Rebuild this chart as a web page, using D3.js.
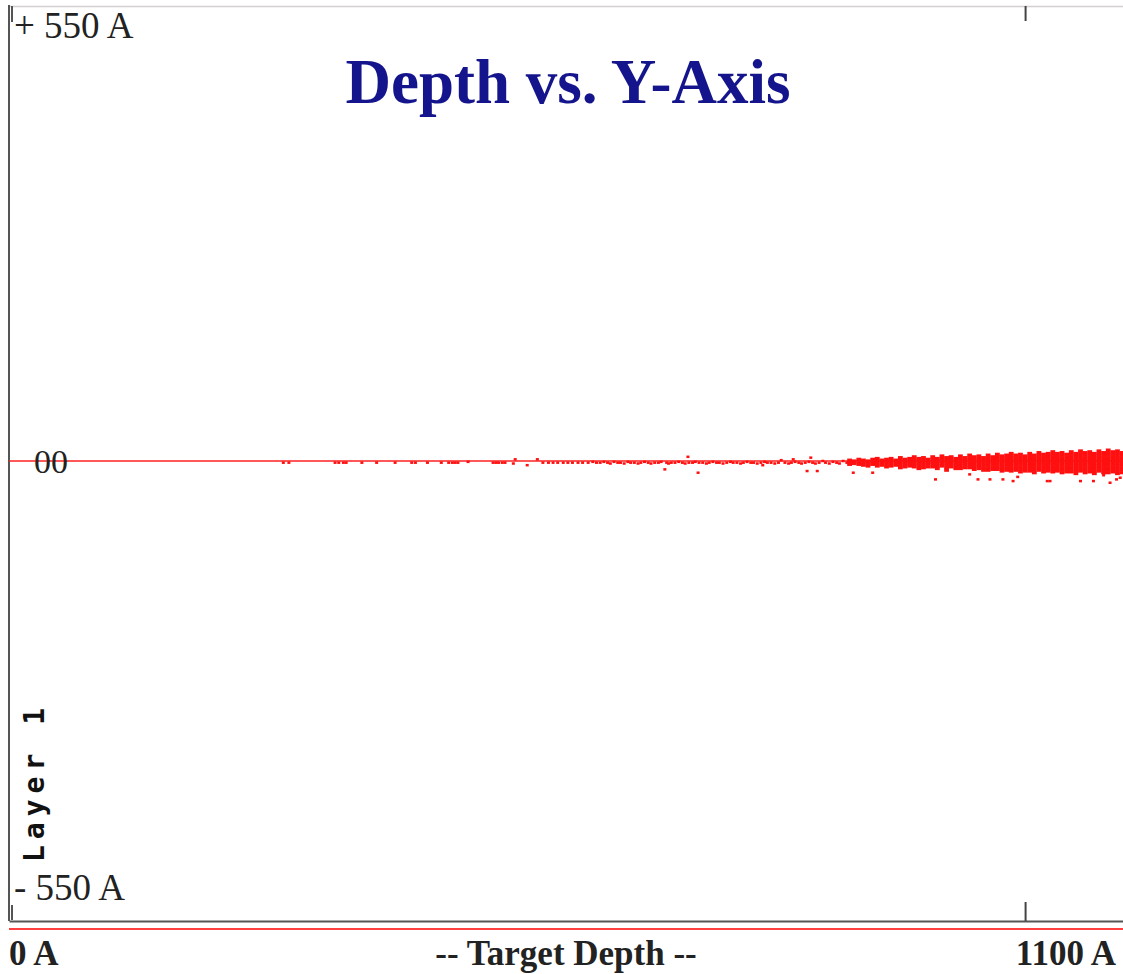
<!DOCTYPE html>
<html>
<head>
<meta charset="utf-8">
<script src="https://cdn.jsdelivr.net/npm/d3@7"></script>
<style>
  body { margin: 0; background: #fff; }
  svg { display: block; }
</style>
</head>
<body>
<script>
// [depth (A), y offset (A)]
const sparsePoints = [
  [297,-2],[303,-2],[353,-2],[357,-2],[362,-2],[365,-2],[382,-2],[398,-2],[418,-2],[436,-2],
  [440,-2],[453,-2],[468,-2],[476,-2],[480,-2],[483,-2],[486,-2],[497,-1],[524,-2],[527,-2],
  [530,-2],[534,-2],[537,-2],[546,-3],[548,2],[561,-5],[572,2],[578,-2],[584,-2],[589,-2],
  [594,-2],[600,-2],[605,-2],[610,-2],[616,-2],[621,-2],[627,-2],[632,-1],[636,-2]
];

const midPoints = [
  [640,-2],[644,-1],[648,-2],[651,-3],[655,-1],[659,-2],[662,-2],[666,-3],[670,-1],[673,-2],
  [677,-2],[681,-3],[684,-2],[688,-1],[692,-2],[695,-3],[699,-2],[703,-2],[706,-1],[710,-10],
  [712,-2],[714,-3],[717,-2],[721,-2],[725,-1],[729,-2],[732,-3],[735,5],[736,-2],[740,-2],
  [743,-1],[746,-14],[747,-2],[751,-2],[755,-3],[758,-2],[762,-1],[766,-2],[769,-2],[773,-3],
  [777,-2],[781,-1],[784,-2],[788,-2],[792,-3],[795,-2],[799,-1],[803,-2],[806,-2],[810,-3],
  [814,-2],[816,-5],[818,-1],[821,-2],[825,-2],[829,-3],[833,-2],[836,1],[840,-2],[844,-3],
  [847,-2],[849,2],[851,-1],[855,-2],[858,-3],[862,-2],[864,-12],[866,-1],[868,4],[870,-2],
  [873,-3],[875,-12],[877,-2],[881,0],[884,-2],[888,-3],[892,-1],[896,-2],[899,-3],[903,0],
  [907,-2]
];

// dense band at the deep end: [depth, [offsets...]]
const bandColumns = [
  [910,[1,-2,-4]],[915,[0,-3]],[920,[2,-1,-4]],[925,[1,-2,-5]],[930,[0,-3,-6]],
  [935,[2,-1,-4]],[940,[3,0,-3,-6]],[945,[1,-2,-5]],[950,[2,-1,-4,-7]],[955,[3,0,-3,-6]],
  [960,[1,-2,-5]],[965,[4,1,-2,-5,-8]],[970,[2,-1,-4,-7]],[975,[3,0,-3,-6]],[980,[5,2,-1,-4,-7]],
  [985,[3,0,-3,-6,-9]],[990,[4,1,-2,-5,-8]],[995,[2,-1,-4,-7]],[1000,[5,2,-1,-4,-7]],[1005,[3,0,-3,-6,-9]],
  [1010,[6,3,0,-3,-6]],[1015,[4,1,-2,-5,-8,-11]],[1020,[5,2,-1,-4,-7]],[1025,[3,0,-3,-6,-9]],[1030,[6,3,0,-3,-6,-9]],
  [1035,[4,1,-2,-5,-8]],[1040,[7,4,1,-2,-5,-8]],[1045,[5,2,-1,-4,-7,-10]],[1050,[6,3,0,-3,-6,-9]],[1055,[4,1,-2,-5,-8,-11]],
  [1060,[7,4,1,-2,-5,-8,-11]],[1065,[5,2,-1,-4,-7,-10]],[1070,[8,5,2,-1,-4,-7,-10]],[1075,[6,3,0,-3,-6,-9,-12]],[1080,[7,4,1,-2,-5,-8,-11]],
  [1085,[9,6,3,0,-3,-6,-9,-12]],[1090,[7,4,1,-2,-5,-8,-11]],[1095,[8,5,2,-1,-4,-7,-10,-13]],[1100,[6,3,0,-3,-6,-9,-12]],[1105,[9,6,3,0,-3,-6,-9,-12]],
  [1110,[7,4,1,-2,-5,-8,-11,-14]],[1115,[10,7,4,1,-2,-5,-8,-11]],[1120,[8,5,2,-1,-4,-7,-10,-13]],[1125,[9,6,3,0,-3,-6,-9,-12]],[1130,[11,8,5,2,-1,-4,-7,-10,-13]],
  [1135,[9,6,3,0,-3,-6,-9,-12]],[1140,[10,7,4,1,-2,-5,-8,-11,-14]],[1145,[8,5,2,-1,-4,-7,-10,-13]],[1150,[11,8,5,2,-1,-4,-7,-10,-13]],[1155,[9,6,3,0,-3,-6,-9,-12,-15]],
  [1160,[12,9,6,3,0,-3,-6,-9,-12]],[1165,[10,7,4,1,-2,-5,-8,-11,-14]],[1170,[11,8,5,2,-1,-4,-7,-10,-13]],[1175,[9,6,3,0,-3,-6,-9,-12,-15]],[1180,[12,9,6,3,0,-3,-6,-9,-12]],
  [1185,[10,7,4,1,-2,-5,-8,-11,-14]],[1190,[13,10,7,4,1,-2,-5,-8,-11,-14]],[1195,[11,8,5,2,-1,-4,-7,-10,-13]],[1200,[12,9,6,3,0,-3,-6,-9,-12,-15]],[1205,[10,7,4,1,-2,-5,-8,-11,-14]]
];

const outlierPoints = [
  [914,-14],[935,-14],[1003,-22],[1040,-16],[1049,-22],[1062,-22],[1076,-22],[1087,-24],
  [1092,-19],[1124,-24],[1127,-24],[1160,-24],[1174,-24],[1185,-17],[1192,-26],[1199,-22],[1203,-20]
];

const depthTicks = [1100];
const yLabels = ["+ 550 A", "00", "- 550 A"];
const xLabels = ["0 A", "-- Target Depth --", "1100 A"];

const width = 1123;
const height = 974;
const marginLeft = 9;
const plotTop = 1;
const plotBottom = 921;
const depthMax = 1206; // visible right edge of the plot

const serif = '"Liberation Serif", "DejaVu Serif", serif';

const x = d3.scaleLinear().domain([0, depthMax]).range([marginLeft, width]);
const y = d3.scaleLinear().domain([-550, 550]).range([plotBottom, plotTop]);

const svg = d3.create("svg")
  .attr("width", width)
  .attr("height", height);

// top border with tick
svg.append("g")
  .attr("transform", "translate(0,6)")
  .call(d3.axisBottom(x).tickValues(depthTicks).tickSize(15).tickSizeOuter(0).tickFormat(""))
  .call(g => g.select(".domain").attr("stroke", "#d4d0d4").attr("stroke-width", 1.5))
  .call(g => g.selectAll(".tick line").attr("stroke", "#444").attr("stroke-width", 2));

// bottom axis
svg.append("g")
  .attr("transform", `translate(0,${plotBottom})`)
  .call(d3.axisTop(x).tickValues(depthTicks).tickSize(19).tickSizeOuter(0).tickFormat(""))
  .call(g => g.select(".domain").attr("stroke", "#555").attr("stroke-width", 2))
  .call(g => g.selectAll(".tick line").attr("stroke", "#444").attr("stroke-width", 2));

// left axis
svg.append("g")
  .attr("transform", `translate(${marginLeft},0)`)
  .call(d3.axisRight(y).tickValues([]).tickSizeOuter(0))
  .call(g => g.select(".domain").attr("stroke", "#555").attr("stroke-width", 2)
    .attr("d", `M0,${y(550) + 4}V${plotBottom}`));

// small marks next to the limit labels
svg.append("line").attr("x1", 12).attr("x2", 12)
  .attr("y1", y(550) + 5).attr("y2", y(550) + 21)
  .attr("stroke", "#555").attr("stroke-width", 2);
svg.append("line").attr("x1", 12).attr("x2", 12)
  .attr("y1", y(-550) - 16).attr("y2", y(-550) - 1)
  .attr("stroke", "#555").attr("stroke-width", 2);

// red line under the axis
svg.append("line")
  .attr("x1", x(0)).attr("x2", width)
  .attr("y1", plotBottom + 8).attr("y2", plotBottom + 8)
  .attr("stroke", "#ff4040").attr("stroke-width", 2);

// zero line
svg.append("line")
  .attr("x1", x(0)).attr("x2", width)
  .attr("y1", y(0)).attr("y2", y(0))
  .attr("stroke", "#ff2020").attr("stroke-width", 1.5);

// points
const loosePoints = sparsePoints.concat(midPoints).concat(outlierPoints);
const bandPoints = bandColumns.flatMap(([d, offs]) => offs.map(o => [d, o]));

const dots = svg.append("g").attr("fill", "#ff1010");

dots.selectAll("rect.loose")
  .data(loosePoints)
  .join("rect")
  .attr("class", "loose")
  .attr("x", d => x(d[0]) - 1.5)
  .attr("y", d => y(d[1]) - 1.25)
  .attr("width", 3)
  .attr("height", 2.5);

dots.selectAll("rect.band")
  .data(bandPoints)
  .join("rect")
  .attr("class", "band")
  .attr("x", d => x(d[0]) - 2.4)
  .attr("y", d => y(d[1]) - 1.6)
  .attr("width", 4.8)
  .attr("height", 3.2);

// y labels
svg.append("text")
  .attr("x", 14).attr("y", y(550) + 37)
  .attr("font-family", serif).attr("font-size", 37).attr("fill", "#222")
  .text(yLabels[0]);
svg.append("text")
  .attr("x", 34).attr("y", y(0) + 12)
  .attr("font-family", serif).attr("font-size", 34).attr("fill", "#222")
  .text(yLabels[1]);
svg.append("text")
  .attr("x", 14).attr("y", y(-550) - 21)
  .attr("font-family", serif).attr("font-size", 37).attr("fill", "#222")
  .text(yLabels[2]);

// x labels
svg.append("text")
  .attr("x", x(0)).attr("y", 965)
  .attr("font-family", serif).attr("font-size", 35).attr("font-weight", "bold").attr("fill", "#222")
  .text(xLabels[0]);
svg.append("text")
  .attr("x", 566).attr("y", 965).attr("text-anchor", "middle")
  .attr("font-family", serif).attr("font-size", 35).attr("font-weight", "bold").attr("fill", "#222")
  .text(xLabels[1]);
svg.append("text")
  .attr("x", 1116).attr("y", 965).attr("text-anchor", "end")
  .attr("font-family", serif).attr("font-size", 35).attr("font-weight", "bold").attr("fill", "#222")
  .text(xLabels[2]);

// title
svg.append("text")
  .attr("x", 568).attr("y", 103).attr("text-anchor", "middle")
  .attr("font-family", serif).attr("font-size", 63).attr("font-weight", "bold").attr("fill", "#14148c")
  .text("Depth vs. Y-Axis");

// layer label
svg.append("text")
  .attr("transform", "translate(44,862) rotate(-90)")
  .attr("font-family", '"DejaVu Sans Mono", monospace').attr("font-size", 28).attr("font-weight", "bold")
  .attr("letter-spacing", 6).attr("fill", "#111")
  .text("Layer 1");

document.body.appendChild(svg.node());
</script>
</body>
</html>
